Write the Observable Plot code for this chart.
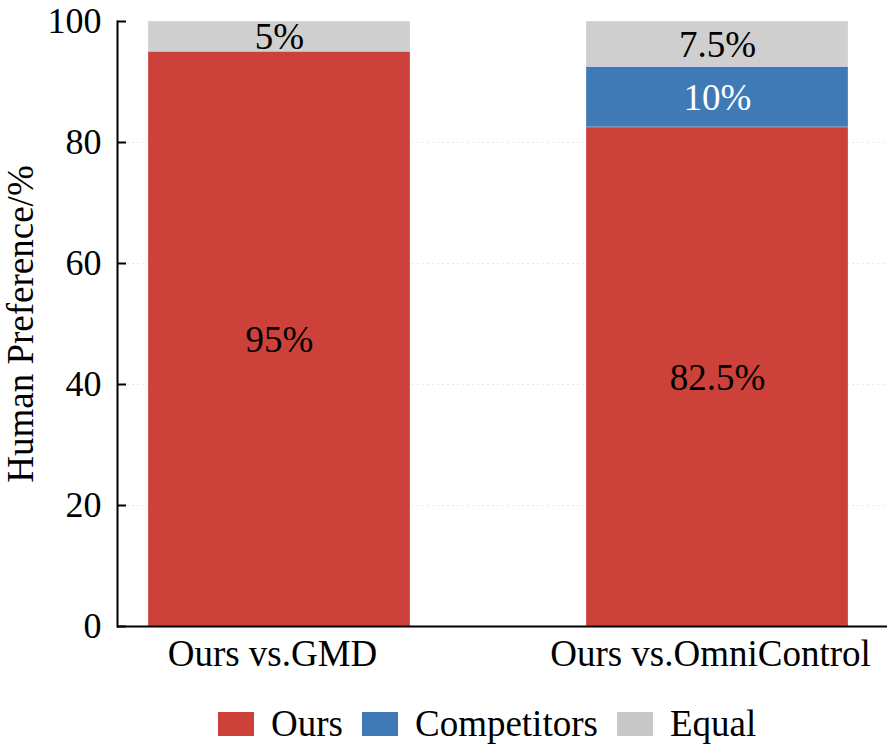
<!DOCTYPE html>
<html>
<head>
<meta charset="utf-8">
<script src="https://cdn.jsdelivr.net/npm/d3@7"></script>
<script src="https://cdn.jsdelivr.net/npm/@observablehq/plot@0.6"></script>
<style>
  html, body { margin: 0; padding: 0; background: #fff; }
  #chart { width: 887px; font-family: "Liberation Serif", serif; }
  #chart svg text { font-family: "Liberation Serif", serif; }
  .legend { display: flex; align-items: center; font-family: "Liberation Serif", serif; font-size: 37px; color: #000; padding-left: 218px; margin-top: 22px; }
  .legend .item { display: flex; align-items: center; margin-right: 19px; }
  .legend .sw { width: 36px; height: 24px; margin-right: 17px; }
</style>
</head>
<body>
<div id="chart"></div>
<script>
const categories = ["Ours vs.GMD", "Ours vs.OmniControl"];
const seriesNames = ["Ours", "Competitors", "Equal"];
const seriesColors = ["#CC4139", "#3F7AB6", "#CFCFCF"];
const oursValues = [95, 82.5];
const competitorValues = [0, 10];
const equalValues = [5, 7.5];
const yTicks = [0, 20, 40, 60, 80, 100];
const yTitle = "Human Preference/%";

const seriesValues = [oursValues, competitorValues, equalValues];
const data = [];
categories.forEach((c, i) => {
  seriesNames.forEach((s, j) => {
    data.push({category: c, series: s, value: seriesValues[j][i]});
  });
});
const labelled = data.filter(d => d.value > 0);
const serif = "'Liberation Serif', serif";

const plot = Plot.plot({
  width: 887,
  height: 680,
  marginLeft: 117,
  marginRight: 0,
  marginTop: 21,
  marginBottom: 54,
  style: {fontFamily: serif, background: "#fff"},
  x: {domain: categories, paddingInner: 0.4025, paddingOuter: 0.07925, align: 0.446, label: null},
  y: {domain: [0, 100], label: null},
  color: {domain: seriesNames, range: seriesColors},
  marks: [
    Plot.gridY(yTicks.filter(t => t > 0 && t < 100), {stroke: "#d8d8d8", strokeOpacity: 0.6, strokeDasharray: "2,3"}),
    Plot.barY(data, {x: "category", y: "value", fill: "series", stroke: "#fff", strokeOpacity: 0.25, strokeWidth: 1}),
    Plot.text(labelled, Plot.stackY({
      x: "category", y: "value", z: "series",
      text: d => d.value + "%",
      fill: d => d.series === "Competitors" ? "#fff" : "#000",
      fontSize: 37, fontFamily: serif, dy: 1
    })),
    Plot.axisY({ticks: yTicks, tickSize: 0, tickPadding: 16, fontSize: 36, fontFamily: serif, label: null}),
    Plot.axisY({ticks: yTicks, tickSize: 9, dx: 9, text: null, label: null, strokeWidth: 2}),
    Plot.axisX({tickSize: 0, tickPadding: 13, fontSize: 37, fontFamily: serif, label: null, dx: -7}),
    Plot.text([yTitle], {frameAnchor: "left", text: d => d, rotate: -90, textAnchor: "middle", dx: -96, fontSize: 37, fontFamily: serif, fill: "#000"}),
    Plot.ruleY([0], {stroke: "#000", strokeWidth: 2}),
    Plot.frame({anchor: "left", stroke: "#000", strokeWidth: 2})
  ]
});
const root = document.getElementById("chart");
root.appendChild(plot);

const legend = document.createElement("div");
legend.className = "legend";
seriesNames.forEach((s, i) => {
  const item = document.createElement("div");
  item.className = "item";
  const sw = document.createElement("div");
  sw.className = "sw";
  sw.style.background = i === 2 ? "#C8C8C8" : seriesColors[i];
  const lab = document.createElement("span");
  lab.textContent = s;
  item.appendChild(sw);
  item.appendChild(lab);
  legend.appendChild(item);
});
root.appendChild(legend);
</script>
</body>
</html>
